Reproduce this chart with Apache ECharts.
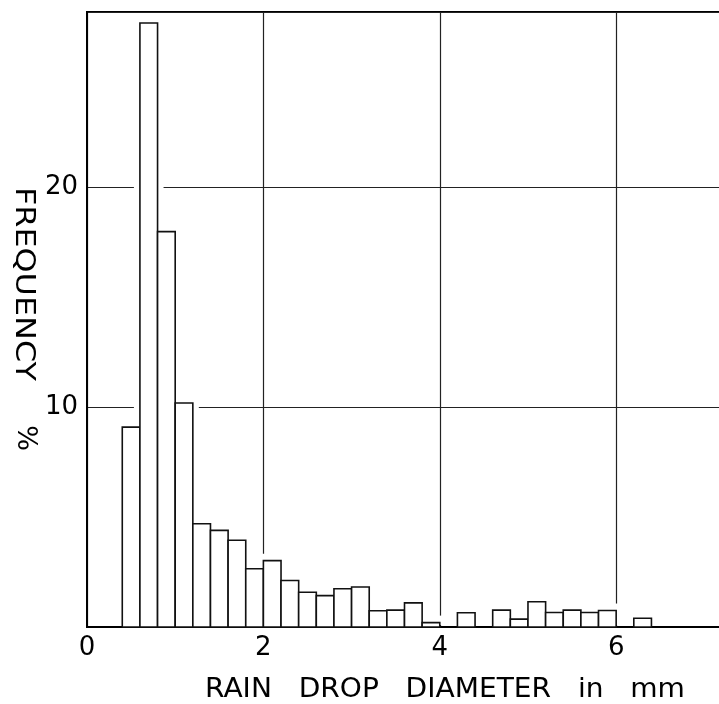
<!DOCTYPE html>
<html>
<head>
    <meta charset="utf-8">
    <script src="https://cdn.jsdelivr.net/npm/echarts@6/dist/echarts.min.js"></script>
    <style>html,body{margin:0;padding:0;background:#fff;}</style>
</head>
<body>
    <div id="main" style="width:719px;height:704px;"></div>
    <script type="text/javascript">
        // bin edges in mm (each bin is 0.2 mm wide) and frequency in %
        var binLeft  = [0.4, 0.6, 0.8, 1.0, 1.2, 1.4, 1.6, 1.8, 2.0, 2.2, 2.4, 2.6, 2.8, 3.0, 3.2,
                        3.4, 3.6, 3.8, 4.0, 4.2, 4.4, 4.6, 4.8, 5.0, 5.2, 5.4, 5.6, 5.8, 6.0, 6.2];
        var binRight = [0.6, 0.8, 1.0, 1.2, 1.4, 1.6, 1.8, 2.0, 2.2, 2.4, 2.6, 2.8, 3.0, 3.2, 3.4,
                        3.6, 3.8, 4.0, 4.2, 4.4, 4.6, 4.8, 5.0, 5.2, 5.4, 5.6, 5.8, 6.0, 6.2, 6.4];
        var frequency = [9.1, 27.5, 18.0, 10.2, 4.7, 4.4, 3.95, 2.65, 3.02, 2.12, 1.58, 1.43, 1.74, 1.82, 0.74,
                         0.77, 1.1, 0.2, 0, 0.65, 0, 0.77, 0.36, 1.15, 0.66, 0.77, 0.66, 0.75, 0, 0.4];
        var xTickLabels = ['0', '2', '4', '6'];
        var yTickLabels = ['10', '20'];

        var data = [];
        for (var i = 0; i < frequency.length; i++) {
            data.push([binLeft[i], binRight[i], frequency[i]]);
        }

        var font = '"DejaVu Sans", sans-serif';
        var myChart = echarts.init(document.getElementById('main'), null, {renderer: 'canvas'});

        // white gap round each bar, so the grid lines stop short of it
        function renderGap(params, api) {
            var v = api.value(2);
            if (!v) return;
            var p0 = api.coord([api.value(0), v]);
            var p1 = api.coord([api.value(1), 0]);
            var pad = 6;
            return {
                type: 'rect',
                shape: {x: p0[0] - pad, y: p0[1] - pad - 1, width: p1[0] - p0[0] + 2 * pad, height: p1[1] - p0[1] + pad - 1},
                style: {fill: '#fff'}
            };
        }

        function renderBar(params, api) {
            var v = api.value(2);
            if (!v) return;
            var p0 = api.coord([api.value(0), v]);
            var p1 = api.coord([api.value(1), 0]);
            return {
                type: 'rect',
                shape: {x: p0[0], y: p0[1], width: p1[0] - p0[0], height: p1[1] - p0[1]},
                style: {fill: '#fff', stroke: '#111', lineWidth: 1.6}
            };
        }

        var option = {
            animation: false,
            backgroundColor: '#fff',
            grid: {
                left: 87, top: 12, width: 635, height: 615,
                outerBoundsMode: 'none', containLabel: false,
                show: true, borderColor: '#000', borderWidth: 2
            },
            xAxis: {
                type: 'value', min: 0, max: 7.2, interval: 2,
                axisLine: {show: true, onZero: false, lineStyle: {color: '#000', width: 2}},
                axisTick: {show: false},
                splitLine: {show: true, lineStyle: {color: '#222', width: 1.2}},
                axisLabel: {
                    showMaxLabel: false, margin: 8, color: '#000', fontSize: 26, fontFamily: font,
                    formatter: function (v) { return xTickLabels[v / 2] || ''; }
                }
            },
            yAxis: {
                type: 'value', min: 0, max: 28, interval: 10,
                axisLine: {show: true, lineStyle: {color: '#000', width: 2}},
                axisTick: {show: false},
                splitLine: {show: true, lineStyle: {color: '#222', width: 1.2}},
                axisLabel: {
                    showMinLabel: false, showMaxLabel: false, margin: 9, color: '#000', fontSize: 26, fontFamily: font,
                    formatter: function (v) { return yTickLabels[v / 10 - 1] || ''; }
                }
            },
            graphic: [
                {
                    type: 'text', x: 445, y: 690, scaleX: 1.08,
                    style: {text: 'RAIN   DROP   DIAMETER   in   mm', font: '26px ' + font, fill: '#000',
                            textAlign: 'center', textVerticalAlign: 'middle'}
                },
                {
                    type: 'text', x: 23, y: 284, rotation: -Math.PI / 2, scaleX: 1.18,
                    style: {text: 'FREQUENCY', font: '27px ' + font, fill: '#000',
                            textAlign: 'center', textVerticalAlign: 'middle'}
                },
                {
                    type: 'text', x: 25, y: 438, rotation: -Math.PI / 2,
                    style: {text: '%', font: '27px ' + font, fill: '#000',
                            textAlign: 'center', textVerticalAlign: 'middle'}
                }
            ],
            series: [
                {type: 'custom', renderItem: renderGap, data: data, silent: true, clip: false},
                {type: 'custom', renderItem: renderBar, data: data, clip: false}
            ]
        };
        myChart.setOption(option);
    </script>
</body>
</html>
